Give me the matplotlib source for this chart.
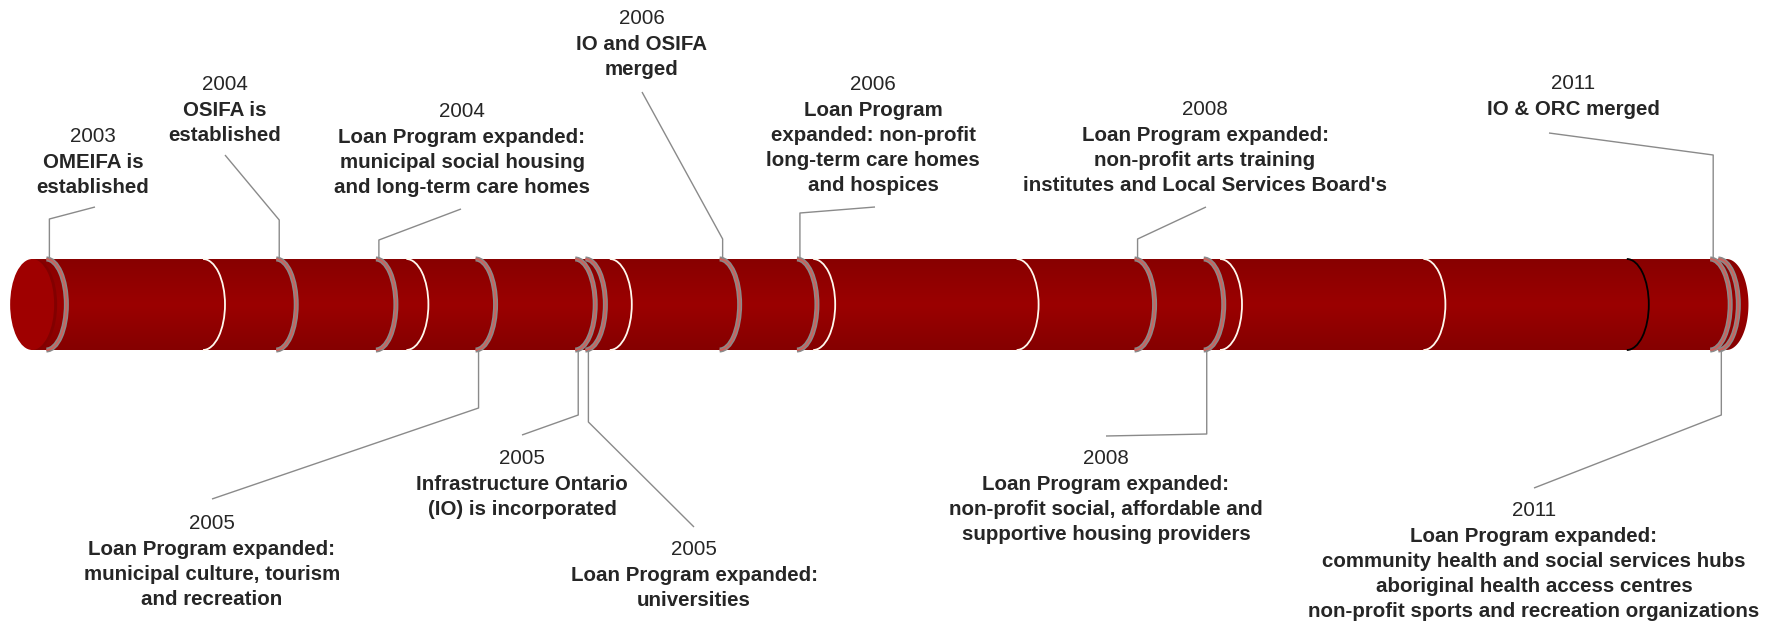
import numpy as np
import matplotlib
matplotlib.use("Agg")
import matplotlib.pyplot as plt
from matplotlib.patches import Arc, Ellipse, PathPatch
from matplotlib.path import Path
from matplotlib.colors import LinearSegmentedColormap

# ---------------- data ----------------
event_dates = [2003.23, 2004.36, 2004.85, 2005.34, 2005.83, 2005.88,
               2006.54, 2006.92, 2008.58, 2008.92, 2011.41, 2011.45]
event_years = ["2003", "2004", "2004", "2005", "2005", "2005",
               "2006", "2006", "2008", "2008", "2011", "2011"]
event_texts = [
    ["OMEIFA is", "established"],
    ["OSIFA is", "established"],
    ["Loan Program expanded:", "municipal social housing", "and long-term care homes"],
    ["Loan Program expanded:", "municipal culture, tourism", "and recreation"],
    ["Infrastructure Ontario", "(IO) is incorporated"],
    ["Loan Program expanded:", "universities"],
    ["IO and OSIFA", "merged"],
    ["Loan Program", "expanded: non-profit", "long-term care homes", "and hospices"],
    ["Loan Program expanded:", "non-profit arts training", "institutes and Local Services Board's"],
    ["Loan Program expanded:", "non-profit social, affordable and", "supportive housing providers"],
    ["IO & ORC merged"],
    ["Loan Program expanded:", "community health and social services hubs",
     "aboriginal health access centres", "non-profit sports and recreation organizations"],
]
separator_years = [2004, 2005, 2006, 2007, 2008, 2009, 2010, 2011]
separator_colors = ["#fff8ee"] * 7 + ["#000000"]
timeline_start = 2003.16
timeline_end = 2011.49

# ---------------- layout (pixels) ----------------
W, H = 1779, 622
PX_2004, PX_PER_YEAR = 203.0, 203.4
CYL_TOP, CYL_BOT = 259.0, 350.0
CYL_MID = (CYL_TOP + CYL_BOT) / 2
CYL_H = CYL_BOT - CYL_TOP
ARC_A = 22.0  # semi-width of the end ellipses in px

side = ["up", "up", "up", "down", "down", "down", "up", "up", "up", "down", "up", "down"]
label_x = [93, 225, 462, 212, 522, 694, 642, 873, 1205, 1106, 1573, 1534]
label_y = [135, 83, 110, 522, 457, 548, 17, 83, 108, 457, 82, 509]
kink_y = [219, 220, 240, 408, 415, 422, 239, 213, 239, 434, 155, 415]
end_xy = [(95, 207), (225, 155), (461, 209), (212, 499), (522, 435), (694, 527),
          (642, 92), (875, 207), (1206, 207), (1106, 436), (1549, 133), (1534, 488)]


def yr(px):
    return 2004 + (px - PX_2004) / PX_PER_YEAR


def pxw(w):
    return w / PX_PER_YEAR


fig = plt.figure(figsize=(W / 100, H / 100), dpi=100)
ax = fig.add_axes([0, 0, 1, 1])
ax.set_xlim(yr(0), yr(W))
ax.set_ylim(H, 0)
ax.axis("off")

# ---------------- cylinder body ----------------
a = pxw(ARC_A)
t = np.linspace(np.pi / 2, -np.pi / 2, 60)
verts = [(timeline_start, CYL_TOP), (timeline_end, CYL_TOP)]
verts += list(zip(timeline_end + a * np.cos(t), CYL_MID - (CYL_H / 2) * np.sin(t)))
verts += [(timeline_start, CYL_BOT), (timeline_start, CYL_TOP)]
codes = [Path.MOVETO] + [Path.LINETO] * (len(verts) - 2) + [Path.CLOSEPOLY]
body = PathPatch(Path(verts, codes), facecolor="none", edgecolor="none")
ax.add_patch(body)
cmap = LinearSegmentedColormap.from_list(
    "cyl", [(0, "#880000"), (0.5, "#9b0000"), (1, "#850000")])
grad = np.linspace(0, 1, 200).reshape(-1, 1)
im = ax.imshow(grad, cmap=cmap, aspect="auto", origin="upper",
               extent=[timeline_start, timeline_end + a, CYL_BOT, CYL_TOP],
               zorder=1, interpolation="bilinear")
im.set_clip_path(body)

# left cap
ax.add_patch(Ellipse((timeline_start + pxw(3), CYL_MID), 2 * a, CYL_H,
                     facecolor="#820000", edgecolor="none", zorder=2))
ax.add_patch(Ellipse((timeline_start, CYL_MID), 2 * a, CYL_H,
                     facecolor="#9f0000", edgecolor="none", zorder=2.1))

# year separators
for sy, sc in zip(separator_years, separator_colors):
    ax.add_patch(Arc((sy, CYL_MID), 2 * a, CYL_H, theta1=-90, theta2=90,
                     color=sc, lw=1.3, zorder=3))

# event bands
for d in event_dates:
    ax.add_patch(Arc((d, CYL_MID), 2 * pxw(20), CYL_H, theta1=-90, theta2=90,
                     color="#8a8a8a", lw=3.6, zorder=4))
    ax.add_patch(Arc((d, CYL_MID), 2 * pxw(20), CYL_H, theta1=-90, theta2=90,
                     color="#c8645f", lw=1.5, zorder=4.1))

# leaders and labels
for i, d in enumerate(event_dates):
    attach_y = CYL_TOP if side[i] == "up" else CYL_BOT
    xa = d + pxw(3)
    ex, ey = end_xy[i]
    ax.plot([xa, xa, yr(ex)], [attach_y, kink_y[i], ey], color="#8a8a8a",
            lw=1.0, zorder=5, solid_capstyle="butt")
    lines = [event_years[i]] + event_texts[i]
    y0 = label_y[i]
    for j, line in enumerate(lines):
        yy = y0 + (0 if j == 0 else 26 + 25 * (j - 1))
        ax.text(yr(label_x[i]), yy + 7, line, ha="center", va="baseline",
                fontsize=14.8, family="Liberation Sans",
                fontweight="normal" if j == 0 else "bold", color="#262626")

fig.savefig("out.png", dpi=100)
